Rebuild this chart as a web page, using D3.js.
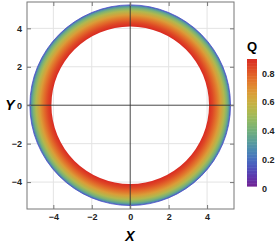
<!DOCTYPE html>
<html>
<head>
<meta charset="utf-8">
<script src="https://cdn.jsdelivr.net/npm/d3@7"></script>
<style>
  body { margin: 0; background: #fff; }
  svg { display: block; font-family: "Liberation Sans", Arial, sans-serif; }
</style>
</head>
<body>
<div id="chart"></div>
<script>
// ring: radius vs charge ratio Q
var ringR = [4.1, 4.3, 4.5, 4.7, 4.9, 5.05, 5.15, 5.22];
var ringQ = [0.9, 0.84, 0.76, 0.66, 0.54, 0.42, 0.3, 0.17];
var majorTicks = [-4, -2, 0, 2, 4];
var minorTicks = d3.range(-5, 5.01, 0.5);
var barTicks = [0, 0.2, 0.4, 0.6, 0.8];
var rainbow = ["#78208f", "#5a37b0", "#4565c4", "#4a8bb4", "#62a88a", "#86b86a", "#b3bb4c", "#d6aa3c", "#e4862f", "#e05526", "#d92a22"];

var W = 277, H = 246;
var svg = d3.select("#chart").append("svg").attr("width", W).attr("height", H);

var x = d3.scaleLinear().domain([-5.37, 5.4]).range([27, 234]);
var y = d3.scaleLinear().domain([-5.4, 5.37]).range([209, 2]);
var qMax = 0.9;
var color = function (q) { return d3.interpolateRgbBasis(rainbow)(q / qMax); };

// grid
svg.append("g").selectAll("line.gx").data(majorTicks.filter(d => d != 0)).join("line")
    .attr("x1", d => x(d)).attr("x2", d => x(d)).attr("y1", y(5.37)).attr("y2", y(-5.4))
    .attr("stroke", "#e3e3e3").attr("stroke-width", 1);
svg.append("g").selectAll("line.gy").data(majorTicks.filter(d => d != 0)).join("line")
    .attr("y1", d => y(d)).attr("y2", d => y(d)).attr("x1", x(-5.37)).attr("x2", x(5.4))
    .attr("stroke", "#e3e3e3").attr("stroke-width", 1);

// ring with radial gradient (gradient in the ring's own, translated, coordinates)
var cx = x(0), cy = y(0);
var rOut = x(d3.max(ringR)) - cx;
var defs = svg.append("defs");
var rg = defs.append("radialGradient").attr("id", "ring")
    .attr("gradientUnits", "userSpaceOnUse")
    .attr("cx", 0).attr("cy", 0).attr("r", rOut)
    .attr("fx", 0).attr("fy", 0);
rg.selectAll("stop").data(ringR).join("stop")
    .attr("offset", d => (x(d) - cx) / rOut)
    .attr("stop-color", (d, i) => color(ringQ[i]));

var arc = d3.arc()
    .innerRadius(x(d3.min(ringR)) - cx)
    .outerRadius(rOut)
    .startAngle(0).endAngle(2 * Math.PI);
var ring = svg.append("g").attr("transform", "translate(" + cx + "," + cy + ")");
ring.append("path").attr("d", arc()).attr("fill", "url(#ring)");
ring.append("circle").attr("r", rOut)
    .attr("fill", "none").attr("stroke", "#4a4fc8").attr("stroke-width", 0.8);

// axes through origin
svg.append("line").attr("x1", x(-5.37)).attr("x2", x(5.4)).attr("y1", cy).attr("y2", cy)
    .attr("stroke", "#333").attr("stroke-width", 0.9);
svg.append("line").attr("y1", y(5.37)).attr("y2", y(-5.4)).attr("x1", cx).attr("x2", cx)
    .attr("stroke", "#333").attr("stroke-width", 0.9);

// frame ticks (inward, all four sides)
function frameAxis(axisFn, scale, transform, labels) {
    var g = svg.append("g").attr("transform", transform);
    g.call(axisFn(scale).tickValues(minorTicks).tickSize(-2).tickFormat(""));
    g.call(axisFn(scale).tickValues(majorTicks).tickSize(-4)
        .tickFormat(labels ? d => d3.format("")(d).replace("-", "\u2212") : ""));
    g.selectAll("path.domain").remove();
    g.selectAll("line").attr("stroke", "#777");
    g.selectAll("text").attr("fill", "#222").attr("font-size", 9).attr("font-weight", "bold");
    return g;
}
var xb = frameAxis(d3.axisBottom, x, "translate(0,209)", true);
xb.selectAll("text").attr("dy", "0.35em").attr("y", 8);
frameAxis(d3.axisTop, x, "translate(0,2)", false);
var yl = frameAxis(d3.axisLeft, y, "translate(27,0)", true);
yl.selectAll("text").attr("x", -5);
frameAxis(d3.axisRight, y, "translate(234,0)", false);

svg.append("rect").attr("x", 27).attr("y", 2).attr("width", 207).attr("height", 207)
    .attr("fill", "none").attr("stroke", "#777").attr("stroke-width", 1);

// axis labels
svg.append("text").attr("x", 130).attr("y", 241).attr("text-anchor", "middle")
    .attr("font-size", 14).attr("font-weight", "bold").attr("font-style", "italic").text("X");
svg.append("text").attr("x", 10).attr("y", 110).attr("text-anchor", "middle")
    .attr("font-size", 14).attr("font-weight", "bold").attr("font-style", "italic").text("Y");

// colour bar
var qy = d3.scaleLinear().domain([0, qMax]).range([189, 59]);
var barQ = d3.range(0.02, qMax, 0.01);
svg.append("g").selectAll("rect").data(barQ).join("rect")
    .attr("x", 247).attr("width", 10)
    .attr("y", d => qy(Math.min(d + 0.01, qMax))).attr("height", d => qy(d) - qy(Math.min(d + 0.01, qMax)) + 0.5)
    .attr("fill", d => color(d));
svg.append("g").selectAll("text").data(barTicks).join("text")
    .attr("x", 262).attr("y", d => qy(d)).attr("dy", "0.35em")
    .attr("font-size", 9).attr("font-weight", "bold").attr("fill", "#222")
    .text(d => d3.format(".1f")(d).replace(/^0\.0$/, "0"));
svg.append("text").attr("x", 252).attr("y", 51).attr("text-anchor", "middle")
    .attr("font-size", 13).attr("font-weight", "bold").text("Q");
</script>
</body>
</html>
